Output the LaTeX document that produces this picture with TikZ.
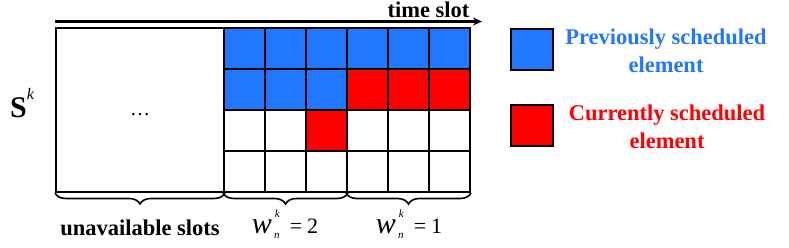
\documentclass[tikz,border=0pt]{standalone}
\usepackage{fontspec}
\setmainfont{Liberation Serif}[BoldFont={Liberation Serif Bold}, ItalicFont={Liberation Serif Italic}]
\usepackage{tikz}
\usetikzlibrary{arrows.meta,decorations.pathreplacing}
\definecolor{prevblue}{RGB}{34,119,255}
\definecolor{currred}{RGB}{255,0,0}
\colorlet{fillB}{prevblue}
\colorlet{fillR}{currred}
\colorlet{fillW}{white}
\newcommand{\wnk}{{\fontsize{30}{30}\selectfont\itshape w}\hspace{3pt}\makebox[6pt][l]{\fontsize{11}{11}\selectfont\itshape\raisebox{16pt}{k}\llap{\raisebox{-5pt}{n}}}}
\newcommand{\Sk}{\textbf{S}\raisebox{18pt}{\fontsize{16}{16}\selectfont\itshape k}}

\begin{document}
\begin{tikzpicture}[x=1pt, y=-1pt,
  cell/.style={draw, line width=2pt, minimum width=41pt, minimum height=41pt, inner sep=0pt},
  brc/.style={decorate, decoration={brace, mirror, amplitude=11pt}, line width=1.6pt},
  lbl/.style={font=\fontsize{22.5}{28}\selectfont\bfseries, align=center},
  wlbl/.style={font=\fontsize{22}{24}\selectfont},
  arr/.style={-{Stealth[length=9pt, width=8pt]}, line width=2.4pt}]
  \useasboundingbox (0,0) rectangle (789,247);
  \coordinate (tstart) at (55,21.5);
  \coordinate (tend) at (482,21.5);
  \draw[arr] (tstart) -- (tend);
  \node[lbl, anchor=base east] (tslot) at (473,17) {time slot};
  \node[font=\fontsize{30}{32}\selectfont, anchor=base west, inner sep=0pt] (smat) at (10,117) {\Sk};
  \node[cell, minimum width=168pt, minimum height=164pt] (unav) at (140,110) {\fontsize{20}{24}\selectfont\raisebox{-12pt}{\dots}};
  \foreach [count=\r] \row in {{B,B,B,B,B,B},{B,B,B,R,R,R},{W,W,R,W,W,W},{W,W,W,W,W,W}}
    \foreach [count=\c] \f in \row
      \node[cell, fill=fill\f] (c\r\c) at (203.5+41*\c, 7.5+41*\r) {};
  \draw[brc] (unav.south west) -- (unav.south east);
  \draw[brc] (c41.south west) -- (c43.south east);
  \draw[brc] (c44.south west) -- (c46.south east);
  \node[lbl, anchor=base] (unavlbl) at (140,235) {unavailable slots};
  \node[wlbl, anchor=base] (wtwo) at (285,233) {\wnk\hspace{9pt}=\hspace{5pt}2};
  \node[wlbl, anchor=base] (wone) at (409,233) {\wnk\hspace{9pt}=\hspace{5pt}1};
  \node[cell, fill=prevblue, minimum width=42pt] (legB) at (532,49.5) {};
  \node[cell, fill=currred, minimum width=42pt] (legR) at (532,125) {};
  \node[lbl, text=prevblue, anchor=base] (txtB) at (666,72) {Previously scheduled\\element};
  \node[lbl, text=currred, anchor=base] (txtR) at (667,148) {Currently scheduled\\element};
\end{tikzpicture}
\end{document}
